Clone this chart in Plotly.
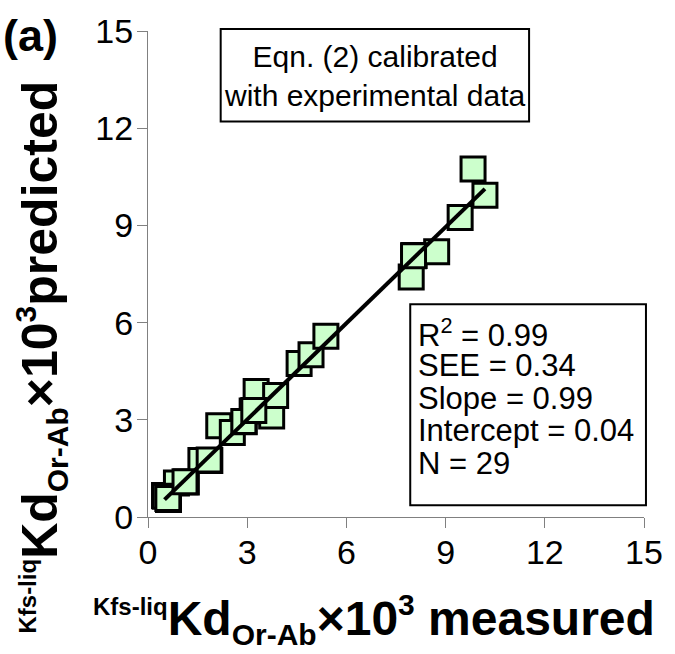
import plotly.graph_objects as go

# ---- data ----
measured = [0.50, 0.62, 0.86, 1.16, 1.60, 1.87, 2.14, 2.55, 2.91, 3.15, 3.27, 3.74, 3.86,
            4.57, 4.93, 5.38, 7.96, 8.05, 8.73, 9.44, 9.83, 10.19,
            0.52, 0.60, 1.12, 1.85, 2.90, 3.20, 8.03]
predicted = [0.66, 0.54, 1.05, 1.08, 1.74, 1.74, 2.82, 2.61, 2.94, 3.27, 3.87, 3.12, 3.75,
             4.74, 5.01, 5.58, 7.41, 8.07, 8.19, 9.24, 10.74, 9.93,
             0.64, 0.57, 1.09, 1.76, 2.95, 3.29, 8.06]
fit_slope = 0.99
fit_intercept = 0.04
tick_values = [0, 3, 6, 9, 12, 15]
stats_lines = ["R<sup>2</sup> = 0.99", "SEE = 0.34", "Slope = 0.99", "Intercept = 0.04", "N = 29"]
note_text = "Eqn. (2) calibrated<br>with experimental data"

# ---- geometry helpers ----
W, H = 675, 654
L, R, T, B = 148, 22, 17, 137
PW, PH = W - L - R, H - T - B


def px(x, y):
    return (x - L) / PW, (H - B - y) / PH


FONT = "Arial, Liberation Sans, sans-serif"

fig = go.Figure()
fig.add_trace(go.Scatter(
    x=measured, y=predicted, mode="markers", cliponaxis=False,
    marker=dict(symbol="square", size=24, color="#ccffcc",
                line=dict(color="black", width=3)),
    hoverinfo="skip"))
xmin, xmax = min(measured), max(measured)
fig.add_trace(go.Scatter(
    x=[xmin, xmax], y=[fit_slope * xmin + fit_intercept, fit_slope * xmax + fit_intercept],
    mode="lines", line=dict(color="black", width=4), cliponaxis=False, hoverinfo="skip"))

axis_common = dict(range=[0, 15], tickvals=tick_values, ticks="outside", ticklen=10,
                   tickwidth=1, tickcolor="#808080", showline=True, linecolor="#808080",
                   linewidth=1, showgrid=False, zeroline=False, ticklabeloverflow="allow",
                   tickfont=dict(family=FONT, size=34, color="black"))

fig.update_layout(
    width=W, height=H, margin=dict(l=L, r=R, t=T, b=B, pad=0),
    paper_bgcolor="white", plot_bgcolor="white", showlegend=False,
    xaxis=dict(**axis_common, ticklabelstandoff=-5),
    yaxis=dict(**axis_common, ticklabelstandoff=-3),
)

shapes = []
annotations = []

# top note box
x0, y0 = px(222, 15)
x1, y1 = px(536, 110)
shapes.append(dict(type="rect", xref="paper", yref="paper", x0=x0, y0=y0, x1=x1, y1=y1,
                   line=dict(color="black", width=2), fillcolor="white", layer="above"))
cx, cy = px(379, 63)
annotations.append(dict(xref="paper", yref="paper", x=cx, y=cy, text=note_text, showarrow=False,
                        xanchor="center", yanchor="middle", align="center",
                        font=dict(family=FONT, size=30, color="black")))

# stats box
x0, y0 = px(415, 298)
x1, y1 = px(655, 505)
shapes.append(dict(type="rect", xref="paper", yref="paper", x0=x0, y0=y0, x1=x1, y1=y1,
                   line=dict(color="black", width=2), fillcolor="white", layer="above"))
for i, s in enumerate(stats_lines):
    ax, ay = px(421, 328 + i * 33.5)
    annotations.append(dict(xref="paper", yref="paper", x=ax, y=ay, text=s, showarrow=False,
                            xanchor="left", yanchor="middle", align="left",
                            font=dict(family=FONT, size=31, color="black")))

# panel label
ax, ay = px(-2, 22)
annotations.append(dict(xref="paper", yref="paper", x=ax, y=ay, text="<b>(a)</b>", showarrow=False,
                        xanchor="left", yanchor="middle",
                        font=dict(family=FONT, size=45, color="black")))

SUPL = '<sup><span style="font-size:24px">Kfs-liq</span></sup>'
SUB = '<sub><span style="font-size:30px">Or-Ab</span></sub>'
SUP3 = '<sup><span style="font-size:30px">3</span></sup>'

x_title = "<b>" + SUPL + "Kd" + SUB + "×10" + SUP3 + " measured</b>"
y_title = "<b>" + SUPL + "Kd" + SUB + "×10" + SUP3 + "predicted</b>"

ax, ay = px(378, 622)
annotations.append(dict(xref="paper", yref="paper", x=ax, y=ay, text=x_title, showarrow=False,
                        xanchor="center", yanchor="middle",
                        font=dict(family=FONT, size=48, color="black")))
ax, ay = px(40, 352)
annotations.append(dict(xref="paper", yref="paper", x=ax, y=ay, text=y_title, showarrow=False,
                        xanchor="center", yanchor="middle", textangle=-90,
                        font=dict(family=FONT, size=50, color="black")))

fig.update_layout(shapes=shapes, annotations=annotations)
fig.write_html("out.html")
